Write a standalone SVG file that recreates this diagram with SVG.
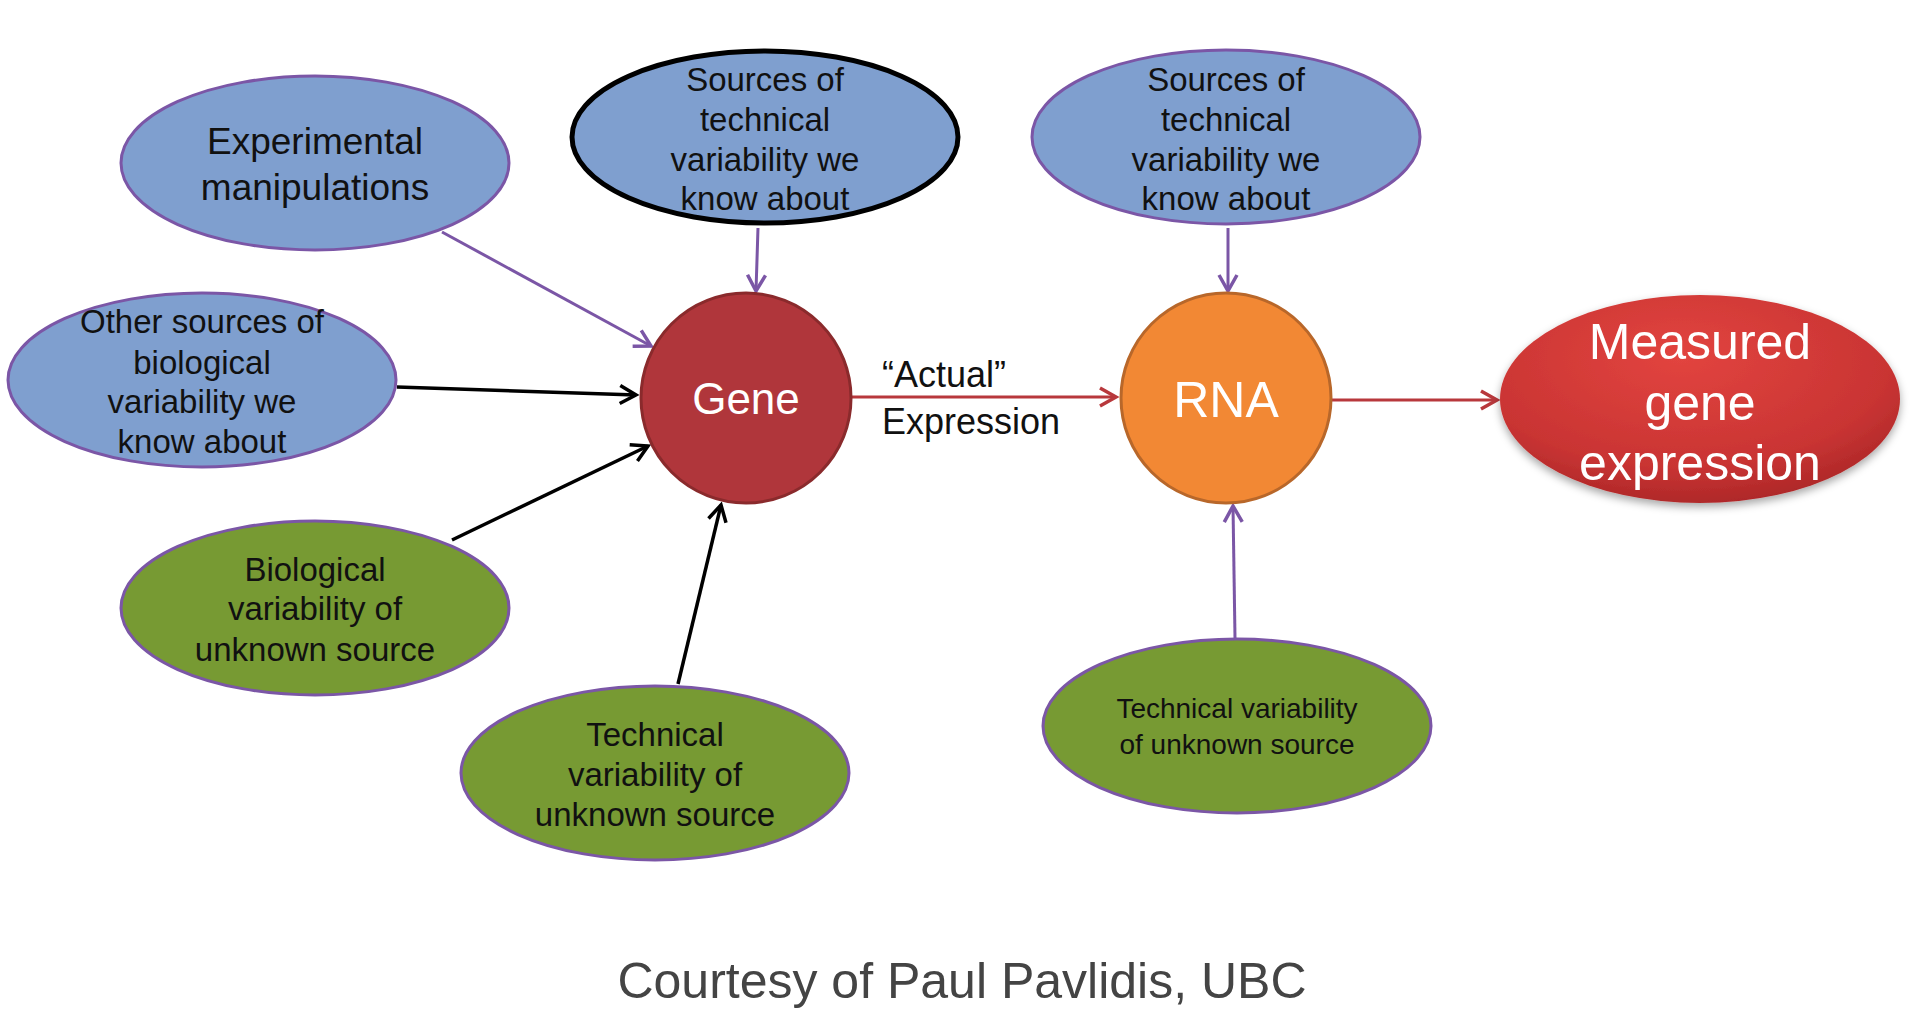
<svg xmlns="http://www.w3.org/2000/svg" width="1916" height="1030" viewBox="0 0 1916 1030">
<style>
text{font-family:"Liberation Sans",Arial,sans-serif;text-anchor:middle}
.blue{fill:#7f9fcf;stroke:#7b56a6;stroke-width:3}
.green{fill:#779a33;stroke:#7b56a6;stroke-width:3}
.t{font-size:33px;fill:#111}
.w{fill:#fff}
.cp{stroke:#7b56a6;stroke-width:3;fill:none}
.cb{stroke:#000;stroke-width:3.5;fill:none}
.cr{stroke:#b8383c;stroke-width:3;fill:none}
</style>
<defs>
<marker id="ap" viewBox="0 0 12 12" refX="11" refY="6" markerWidth="12" markerHeight="12" markerUnits="userSpaceOnUse" orient="auto" style="overflow:visible"><path d="M-5,-3 L11,6 L-5,15" fill="none" stroke="#7b56a6" stroke-width="3.5"/></marker>
<marker id="ab" viewBox="0 0 12 12" refX="11" refY="6" markerWidth="12" markerHeight="12" markerUnits="userSpaceOnUse" orient="auto" style="overflow:visible"><path d="M-5,-3 L11,6 L-5,15" fill="none" stroke="#000" stroke-width="3.5"/></marker>
<marker id="ar" viewBox="0 0 12 12" refX="11" refY="6" markerWidth="12" markerHeight="12" markerUnits="userSpaceOnUse" orient="auto" style="overflow:visible"><path d="M-5,-3 L11,6 L-5,15" fill="none" stroke="#b8383c" stroke-width="3.5"/></marker>
<radialGradient id="mg" cx="0.45" cy="0.3" r="0.75">
<stop offset="0" stop-color="#e2443f"/>
<stop offset="0.7" stop-color="#c93433"/>
<stop offset="1" stop-color="#a82526"/>
</radialGradient>
<filter id="sh" x="-10%" y="-10%" width="120%" height="130%"><feDropShadow dx="0" dy="4" stdDeviation="4" flood-color="#000" flood-opacity="0.35"/></filter>
</defs>
<g id="connectors">
<line class="cp" x1="442" y1="232" x2="651" y2="346" marker-end="url(#ap)"/>
<line class="cp" x1="758" y1="228" x2="756" y2="291" marker-end="url(#ap)"/>
<line class="cb" x1="397" y1="387" x2="636" y2="395" marker-end="url(#ab)"/>
<line class="cb" x1="452" y1="540" x2="648" y2="446" marker-end="url(#ab)"/>
<line class="cb" x1="678" y1="684" x2="721" y2="505" marker-end="url(#ab)"/>
<line class="cr" x1="852" y1="397" x2="1116" y2="397" marker-end="url(#ar)"/>
<line class="cr" x1="1332" y1="400" x2="1497" y2="400" marker-end="url(#ar)"/>
<line class="cp" x1="1228" y1="228" x2="1228" y2="291" marker-end="url(#ap)"/>
<line class="cp" x1="1235" y1="638" x2="1233" y2="506" marker-end="url(#ap)"/>
</g>
<g id="label-actual">
<text x="882" y="387" style="font-size:36px;text-anchor:start;fill:#111">“Actual”</text>
<text x="882" y="434" style="font-size:36px;text-anchor:start;fill:#111">Expression</text>
</g>
<g id="experimental">
<ellipse class="blue" cx="315" cy="163" rx="194" ry="87"/>
<text class="t" style="font-size:37px" x="315" y="154">Experimental</text>
<text class="t" style="font-size:37px" x="315" y="200">manipulations</text>
</g>
<g id="tech-known-gene">
<ellipse cx="765" cy="137" rx="193" ry="86" fill="#7f9fcf" stroke="#000" stroke-width="5"/>
<text class="t" x="765" y="91">Sources of</text>
<text class="t" x="765" y="131">technical</text>
<text class="t" x="765" y="171">variability we</text>
<text class="t" x="765" y="210">know about</text>
</g>
<g id="tech-known-rna">
<ellipse class="blue" cx="1226" cy="137" rx="194" ry="87"/>
<text class="t" x="1226" y="91">Sources of</text>
<text class="t" x="1226" y="131">technical</text>
<text class="t" x="1226" y="171">variability we</text>
<text class="t" x="1226" y="210">know about</text>
</g>
<g id="bio-known">
<ellipse class="blue" cx="202" cy="380" rx="194" ry="87"/>
<text class="t" x="202" y="333">Other sources of</text>
<text class="t" x="202" y="374">biological</text>
<text class="t" x="202" y="413">variability we</text>
<text class="t" x="202" y="453">know about</text>
</g>
<g id="gene">
<circle cx="746" cy="398" r="105" fill="#b0363b" stroke="#8a2a2c" stroke-width="3"/>
<text class="w" x="746" y="414" style="font-size:44px">Gene</text>
</g>
<g id="rna">
<circle cx="1226" cy="398" r="105" fill="#f28834" stroke="#b8672a" stroke-width="3"/>
<text class="w" x="1226" y="417" style="font-size:50px">RNA</text>
</g>
<g id="measured">
<ellipse cx="1700" cy="399" rx="200" ry="104" fill="url(#mg)" filter="url(#sh)"/>
<text class="w" x="1700" y="359" style="font-size:50px">Measured</text>
<text class="w" x="1700" y="420" style="font-size:50px">gene</text>
<text class="w" x="1700" y="480" style="font-size:50px">expression</text>
</g>
<g id="bio-unknown">
<ellipse class="green" cx="315" cy="608" rx="194" ry="87"/>
<text class="t" x="315" y="581">Biological</text>
<text class="t" x="315" y="620">variability of</text>
<text class="t" x="315" y="661">unknown source</text>
</g>
<g id="tech-unknown-gene">
<ellipse class="green" cx="655" cy="773" rx="194" ry="87"/>
<text class="t" x="655" y="746">Technical</text>
<text class="t" x="655" y="786">variability of</text>
<text class="t" x="655" y="826">unknown source</text>
</g>
<g id="tech-unknown-rna">
<ellipse class="green" cx="1237" cy="726" rx="194" ry="87"/>
<text class="t" x="1237" y="718" style="font-size:28px">Technical variability</text>
<text class="t" x="1237" y="754" style="font-size:28px">of unknown source</text>
</g>
<g id="credit">
<text x="962" y="998" style="font-size:50px;fill:#444">Courtesy of Paul Pavlidis, UBC</text>
</g>
</svg>
